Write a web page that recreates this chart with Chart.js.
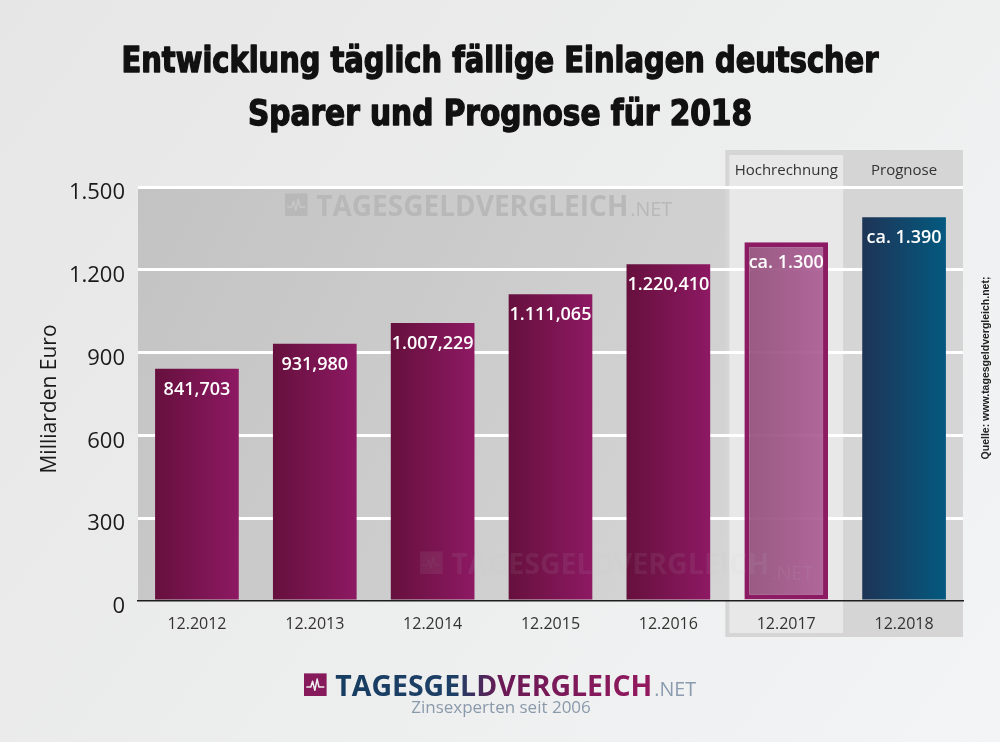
<!DOCTYPE html>
<html>
<head>
<meta charset="utf-8">
<script src="https://cdn.jsdelivr.net/npm/chart.js@4.4.1/dist/chart.umd.min.js"></script>
<style>
  html, body { margin: 0; padding: 0; background: #eeeff0; }
  canvas { display: block; }
</style>
</head>
<body>
<canvas id="myChart" width="1000" height="742"></canvas>
<script>
const categories = ['12.2012', '12.2013', '12.2014', '12.2015', '12.2016', '12.2017', '12.2018'];
const values = [841.703, 931.980, 1007.229, 1111.065, 1220.410, 1300, 1390];
const valueLabels = ['841,703', '931,980', '1.007,229', '1.111,065', '1.220,410', 'ca. 1.300', 'ca. 1.390'];
const yTicks = [0, 300, 600, 900, 1200, 1500];
const titleLines = ['Entwicklung täglich fällige Einlagen deutscher', 'Sparer und Prognose für 2018'];
const columnHeads = ['Hochrechnung', 'Prognose'];
const yTitle = 'Milliarden Euro';
const sourceText = 'Quelle: www.tagesgeldvergleich.net;';

const BAR_PCT = 0.71;

function fmtDe(v) {
    return String(v).replace(/\B(?=(\d{3})+(?!\d))/g, '.');
}

function barColor(c) {
    const chart = c.chart;
    const area = chart.chartArea;
    const i = c.dataIndex;
    if (!area || !chart.scales.x) return i === 6 ? '#0f4a70' : '#7a1650';
    const xs = chart.scales.x;
    const cx = xs.getPixelForValue(i);
    const half = xs.width / categories.length * BAR_PCT / 2;
    const g = chart.ctx.createLinearGradient(cx - half, 0, cx + half, 0);
    if (i === 6) {
        g.addColorStop(0, '#1e3456');
        g.addColorStop(1, '#04597f');
    } else if (i === 5) {
        g.addColorStop(0, 'rgba(140,70,115,0.88)');
        g.addColorStop(1, 'rgba(170,85,145,0.88)');
    } else {
        g.addColorStop(0, '#66103d');
        g.addColorStop(1, '#8d1963');
    }
    return g;
}

// little pulse icon + brand text
function drawBrand(ctx, x, base, size, w, fillMain, fillNet, iconFill, iconLine) {
    const s = size * 0.78;
    ctx.fillStyle = iconFill;
    ctx.fillRect(x, base - s, s, s);
    ctx.strokeStyle = iconLine;
    ctx.lineWidth = 1.5;
    ctx.beginPath();
    const y0 = base - s * 0.4;
    ctx.moveTo(x + s * 0.1, y0);
    ctx.lineTo(x + s * 0.3, y0);
    ctx.lineTo(x + s * 0.38, y0 - s * 0.25);
    ctx.lineTo(x + s * 0.48, y0 + s * 0.15);
    ctx.lineTo(x + s * 0.58, y0 - s * 0.35);
    ctx.lineTo(x + s * 0.66, y0);
    ctx.lineTo(x + s * 0.9, y0);
    ctx.stroke();

    const tx = x + s + size * 0.3;
    ctx.font = 'bold ' + size + 'px "Open Sans"';
    const mw = ctx.measureText('TAGESGELDVERGLEICH').width;
    const sc = w / mw;
    ctx.save();
    ctx.translate(tx, base);
    ctx.scale(sc, 1);
    ctx.textAlign = 'left';
    ctx.textBaseline = 'alphabetic';
    ctx.fillStyle = typeof fillMain === 'function' ? fillMain(ctx, mw) : fillMain;
    ctx.fillText('TAGESGELDVERGLEICH', 0, 0);
    ctx.restore();
    ctx.font = (size * 0.68) + 'px "Open Sans"';
    ctx.fillStyle = fillNet;
    ctx.textAlign = 'left';
    ctx.fillText('.NET', tx + w + 2, base);
}

const decoPlugin = {
    id: 'deco',
    beforeDraw(chart) {
        const ctx = chart.ctx;
        const a = chart.chartArea;
        const W = chart.width, H = chart.height;

        // page background
        let g = ctx.createLinearGradient(0, 0, W, H);
        g.addColorStop(0, '#e6e6e6');
        g.addColorStop(1, '#f3f4f5');
        ctx.fillStyle = g;
        ctx.fillRect(0, 0, W, H);

        // plot background
        g = ctx.createLinearGradient(a.left, a.top, a.right, a.bottom);
        g.addColorStop(0, '#c3c3c3');
        g.addColorStop(1, '#dadada');
        ctx.fillStyle = g;
        ctx.fillRect(a.left, a.top, a.right - a.left, a.bottom - a.top);

        // box behind the last two columns
        const xs = chart.scales.x;
        const step = xs.width / categories.length;
        const c5 = xs.getPixelForValue(5), c6 = xs.getPixelForValue(6);
        const boxL = c5 - step / 2 - 2;
        ctx.fillStyle = '#d5d5d5';
        ctx.fillRect(boxL, 150, a.right - boxL, 487);
        ctx.fillStyle = 'rgba(238,238,238,0.75)';
        ctx.fillRect(boxL + 4, 155, (c5 + step / 2 - 2) - (boxL + 4), 478);

        // column heads
        ctx.font = '15px "Open Sans"';
        ctx.fillStyle = '#333';
        ctx.textAlign = 'center';
        ctx.textBaseline = 'middle';
        ctx.fillText(columnHeads[0], c5, 171);
        ctx.fillText(columnHeads[1], c6, 171);

        // title
        ctx.fillStyle = '#111';
        ctx.strokeStyle = '#111';
        ctx.lineWidth = 1.4;
        ctx.lineJoin = 'round';
        ctx.textBaseline = 'alphabetic';
        ctx.textAlign = 'center';
        ctx.font = 'bold 36px "DejaVu Sans Condensed"';
        const targets = [757, 504];
        const bases = [72, 125];
        titleLines.forEach((t, k) => {
            const mw = ctx.measureText(t).width;
            ctx.save();
            ctx.translate(500, bases[k]);
            ctx.scale(targets[k] / mw, 1);
            ctx.fillText(t, 0, 0);
            ctx.strokeText(t, 0, 0);
            ctx.restore();
        });

        // y axis title
        ctx.save();
        ctx.translate(50, 399);
        ctx.rotate(-Math.PI / 2);
        ctx.font = '21px "Open Sans"';
        ctx.fillStyle = '#1a1a1a';
        ctx.textAlign = 'center';
        ctx.textBaseline = 'middle';
        ctx.fillText(yTitle, 0, 0);
        ctx.restore();

        // source on the right
        ctx.save();
        ctx.translate(986, 368);
        ctx.rotate(-Math.PI / 2);
        ctx.font = 'bold 10.5px "Liberation Sans"';
        ctx.fillStyle = '#222';
        ctx.textAlign = 'center';
        ctx.textBaseline = 'middle';
        ctx.fillText(sourceText, 0, 0);
        ctx.restore();

        // watermark at top of plot
        drawBrand(ctx, 285, 216, 29, 312, '#b8b8b8', '#b8b8b8', '#b8b8b8', '#c6c6c6');

        // logo at the bottom
        drawBrand(ctx, 304, 696, 29, 317, (c, mw) => {
            const lg = c.createLinearGradient(0, 0, mw, 0);
            lg.addColorStop(0, '#173d62');
            lg.addColorStop(0.38, '#1e3f66');
            lg.addColorStop(0.52, '#6a1a55');
            lg.addColorStop(1, '#94195f');
            return lg;
        }, '#8a9bb0', '#861a5b', '#f0f0f0');
        ctx.font = '17px "Open Sans"';
        ctx.fillStyle = '#8a9aab';
        ctx.textAlign = 'center';
        ctx.textBaseline = 'middle';
        ctx.fillText('Zinsexperten seit 2006', 501, 708);
    },
    afterDatasetsDraw(chart) {
        const ctx = chart.ctx;
        const meta = chart.getDatasetMeta(0);
        ctx.font = '600 18px "Open Sans"';
        ctx.fillStyle = '#ffffff';
        ctx.textAlign = 'center';
        ctx.textBaseline = 'middle';
        meta.data.forEach((bar, i) => {
            ctx.fillText(valueLabels[i], bar.x, bar.y + 21);
        });
        // faint watermark across the lower bars
        ctx.save();
        ctx.globalAlpha = 0.09;
        drawBrand(ctx, 420, 574, 29, 318, '#c8c8c8', '#c8c8c8', '#c8c8c8', '#999');
        ctx.restore();
    }
};

const data = {
    labels: categories,
    datasets: [{
        data: values,
        backgroundColor: barColor,
        borderColor: values.map((v, i) => i === 5 ? '#8c1b63' : 'rgba(0,0,0,0)'),
        borderWidth: values.map((v, i) => i === 5 ? 5 : 0),
        borderSkipped: false,
        barPercentage: BAR_PCT,
        categoryPercentage: 1.0
    }]
};

const config = {
    type: 'bar',
    data: data,
    options: {
        responsive: false,
        animation: false,
        layout: { padding: { top: 187, right: 37, left: 0, bottom: 0 } },
        plugins: {
            legend: { display: false },
            title: { display: false },
            tooltip: { enabled: false }
        },
        scales: {
            x: {
                grid: { display: false },
                border: { display: true, color: '#1e1e1e', width: 1.5 },
                ticks: {
                    color: '#333',
                    font: { family: 'Open Sans', size: 16 },
                    padding: 6,
                    maxRotation: 0
                },
                afterFit(s) { s.height = 141; }
            },
            y: {
                min: 0,
                max: 1500,
                afterBuildTicks(s) { s.ticks = yTicks.map(v => ({ value: v })); },
                grid: {
                    color: (c) => c.tick && c.tick.value === 0 ? 'rgba(0,0,0,0)' : '#ffffff',
                    lineWidth: 3,
                    drawTicks: false
                },
                border: { display: false },
                ticks: {
                    color: '#1a1a1a',
                    font: { family: 'Open Sans', size: 22 },
                    padding: 13,
                    labelOffset: 6,
                    callback: (v) => fmtDe(v)
                },
                afterFit(s) { s.width = 138; }
            }
        }
    },
    plugins: [decoPlugin]
};

const ctx = document.getElementById('myChart');
let myChart = new Chart(ctx, config);
</script>
</body>
</html>
